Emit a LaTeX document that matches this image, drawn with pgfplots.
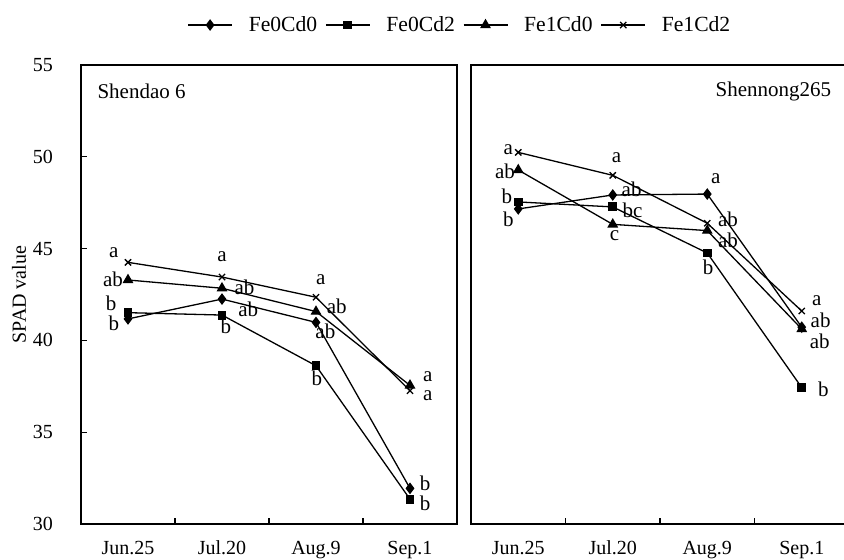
\documentclass[border=0pt]{standalone}
\usepackage{pgfplots}
\pgfplotsset{compat=1.18}
\usepackage{fontspec}
\setmainfont{Liberation Serif}
\tikzset{lab/.style={font=\fontsize{10.5}{12}\selectfont, inner sep=0pt}}
\begin{document}
\begin{tikzpicture}[font=\fontsize{10}{12}\selectfont]
\useasboundingbox (0,0) rectangle (422pt,280pt);
\pgfplotsset{
  panel/.style={
    scale only axis, anchor=south west,
    height=229.5pt,
    xmin=-0.5, xmax=3.5, ymin=30, ymax=55,
    xtick={0,1,2,3},
    xticklabels={Jun.25,Jul.20,Aug.9,Sep.1},
    major x tick style={draw=none},
    minor xtick={0.5,1.5,2.5},
    minor tick length=3pt,
    xtick pos=bottom,
    axis line style={line width=0.8pt},
    tick style={black, line width=0.6pt},
    tick align=inside,
    x tick label style={yshift=-5pt},
    /pgf/number format/assume math mode=true,
    every axis plot/.append style={black, line width=0.65pt},
    clip=false,
  },
}
% ---------- left panel ----------
\begin{axis}[panel,
  at={(40.5pt,18pt)}, width=188pt,
  ytick={30,35,...,55},
  ytick pos=left,
  major tick length=3pt,
  y tick label style={xshift=-10.5pt},
  ylabel={SPAD value},
  ylabel style={at={(axis description cs:-0.165,0.5)}, anchor=center},
  legend columns=4,
  legend style={draw=none, at={(axis description cs:1.005,1.087)}, anchor=center,
    font=\fontsize{10.8}{12}\selectfont,
    nodes={inner xsep=0pt, inner ysep=1pt},
    /tikz/every odd column/.append style={column sep=8pt},
    /tikz/every even column/.append style={column sep=4pt}},
  legend image code/.code={\draw[mark repeat=2,mark phase=2,#1] plot coordinates {(0pt,0pt) (11pt,0pt) (22pt,0pt)};},
]
\addplot[mark=diamond*, mark size=2.4pt] coordinates {(0,41.17) (1,42.25) (2,40.98) (3,31.94)};
\addplot[mark=square*, mark size=1.9pt] coordinates {(0,41.51) (1,41.38) (2,38.62) (3,31.35)};
\addplot[mark=triangle*, mark size=2.5pt] coordinates {(0,43.29) (1,42.84) (2,41.57) (3,37.55)};
\addplot[mark=x, mark size=2.2pt] coordinates {(0,44.25) (1,43.45) (2,42.35) (3,37.26)};
\legend{Fe0Cd0,Fe0Cd2,Fe1Cd0,Fe1Cd2}
\node[anchor=west, inner sep=0pt, font=\fontsize{10.5}{12}\selectfont] at (rel axis cs:0.043,0.942) {Shendao 6};
% letters
\node[lab] at (axis cs:-0.15,44.8) {a};
\node[lab] at (axis cs:-0.16,43.3) {ab};
\node[lab] at (axis cs:-0.18,42.0) {b};
\node[lab] at (axis cs:-0.15,40.95) {b};
\node[lab] at (axis cs:1.0,44.55) {a};
\node[lab] at (axis cs:1.24,42.87) {ab};
\node[lab] at (axis cs:1.28,41.7) {ab};
\node[lab] at (axis cs:1.04,40.75) {b};
\node[lab] at (axis cs:2.05,43.33) {a};
\node[lab] at (axis cs:2.22,41.87) {ab};
\node[lab] at (axis cs:2.1,40.47) {ab};
\node[lab] at (axis cs:2.01,37.94) {b};
\node[lab] at (axis cs:3.19,38.0) {a};
\node[lab] at (axis cs:3.19,37.0) {a};
\node[lab] at (axis cs:3.16,32.2) {b};
\node[lab] at (axis cs:3.16,31.1) {b};
\end{axis}
% ---------- right panel ----------
\begin{axis}[panel,
  at={(235.5pt,18pt)}, width=189pt,
  ytick=\empty,
]
\addplot[mark=diamond*, mark size=2.4pt] coordinates {(0,47.16) (1,47.92) (2,47.97) (3,40.72)};
\addplot[mark=square*, mark size=1.9pt] coordinates {(0,47.54) (1,47.27) (2,44.76) (3,37.43)};
\addplot[mark=triangle*, mark size=2.5pt] coordinates {(0,49.28) (1,46.32) (2,45.98) (3,40.62)};
\addplot[mark=x, mark size=2.2pt] coordinates {(0,50.24) (1,48.99) (2,46.38) (3,41.6)};
\node[anchor=east, inner sep=0pt, font=\fontsize{10.5}{12}\selectfont] at (rel axis cs:0.954,0.942) {Shennong265};
\node[lab] at (axis cs:-0.105,50.37) {a};
\node[lab] at (axis cs:-0.14,49.23) {ab};
\node[lab] at (axis cs:-0.12,47.83) {b};
\node[lab] at (axis cs:-0.105,46.6) {b};
\node[lab] at (axis cs:1.04,49.97) {a};
\node[lab] at (axis cs:1.2,48.23) {ab};
\node[lab] at (axis cs:1.21,47.1) {bc};
\node[lab] at (axis cs:1.02,45.69) {c};
\node[lab] at (axis cs:2.09,48.8) {a};
\node[lab] at (axis cs:2.22,46.6) {ab};
\node[lab] at (axis cs:2.22,45.47) {ab};
\node[lab] at (axis cs:2.01,43.98) {b};
\node[lab] at (axis cs:3.16,42.16) {a};
\node[lab] at (axis cs:3.2,41.07) {ab};
\node[lab] at (axis cs:3.19,39.93) {ab};
\node[lab] at (axis cs:3.23,37.35) {b};
\end{axis}
\end{tikzpicture}
\end{document}
